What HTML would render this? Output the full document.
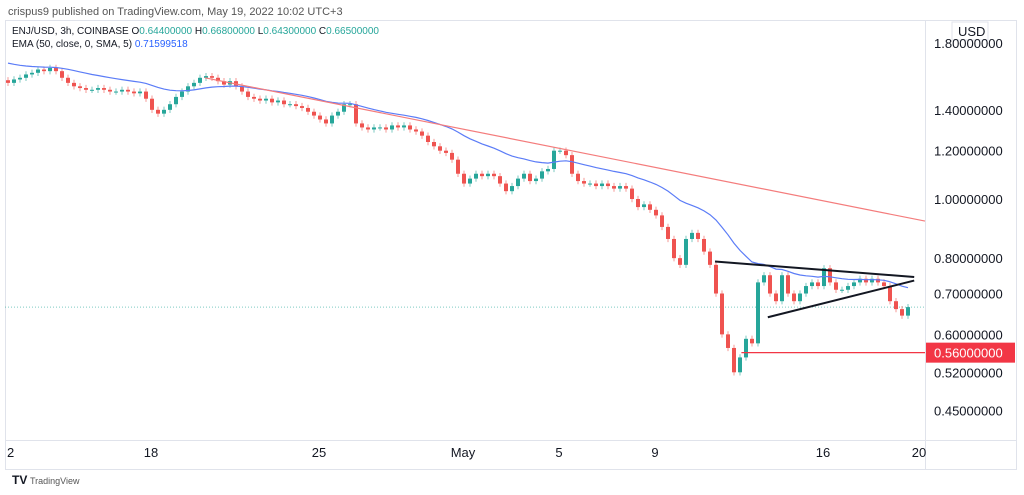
<!DOCTYPE html>
<html><head><meta charset="utf-8"><style>
body{margin:0;width:1024px;height:495px;background:#fff;overflow:hidden;font-family:"Liberation Sans",sans-serif}
svg{position:absolute;left:0;top:0}
</style></head><body>
<svg id="c" width="1024" height="495">
<text x="8" y="15" font-size="11" fill="#555">crispus9 published on TradingView.com, May 19, 2022 10:02 UTC+3</text>
<rect x="5.5" y="20.5" width="1011" height="449" fill="none" stroke="#e0e3eb"/>
<line x1="925.5" y1="20" x2="925.5" y2="470" stroke="#e0e3eb"/>
<line x1="5" y1="440.5" x2="1017" y2="440.5" stroke="#e0e3eb"/>
<text x="12" y="34" font-size="10" fill="#131722">ENJ/USD, 3h, COINBASE  O<tspan fill="#26a69a">0.64400000</tspan>  H<tspan fill="#26a69a">0.66800000</tspan>  L<tspan fill="#26a69a">0.64300000</tspan>  C<tspan fill="#26a69a">0.66500000</tspan></text>
<text x="12" y="47" font-size="10" fill="#131722">EMA (50, close, 0, SMA, 5)  <tspan fill="#2962ff">0.71599518</tspan></text>
<rect x="952" y="22" width="36" height="18" fill="#fff" stroke="#e0e3eb"/>
<text x="958" y="36" font-size="13" fill="#131722">USD</text>
<g id="marks"></g>
<g id="axes"></g>
<text x="12" y="484" font-size="12" font-weight="bold" fill="#131722">TV</text>
<text x="30" y="484" font-size="9" fill="#555">TradingView</text>
</svg>
<script>
const closes=[1.55,1.57,1.58,1.60,1.61,1.63,1.62,1.64,1.62,1.58,1.55,1.53,1.52,1.51,1.51,1.52,1.51,1.50,1.50,1.51,1.50,1.49,1.50,1.46,1.40,1.38,1.40,1.43,1.47,1.50,1.53,1.55,1.58,1.59,1.58,1.56,1.54,1.56,1.53,1.50,1.47,1.46,1.45,1.46,1.44,1.45,1.43,1.43,1.42,1.41,1.39,1.37,1.35,1.33,1.37,1.39,1.43,1.43,1.33,1.31,1.30,1.31,1.31,1.30,1.32,1.31,1.32,1.30,1.29,1.27,1.24,1.22,1.20,1.19,1.16,1.10,1.06,1.08,1.10,1.09,1.10,1.09,1.06,1.03,1.05,1.08,1.10,1.07,1.08,1.11,1.12,1.20,1.20,1.18,1.10,1.07,1.06,1.06,1.05,1.06,1.05,1.04,1.05,1.04,1.00,0.97,0.98,0.96,0.94,0.90,0.86,0.80,0.78,0.86,0.88,0.86,0.82,0.78,0.70,0.60,0.57,0.52,0.55,0.59,0.58,0.73,0.75,0.70,0.68,0.75,0.70,0.68,0.70,0.72,0.73,0.72,0.77,0.73,0.71,0.71,0.72,0.73,0.74,0.73,0.74,0.73,0.72,0.68,0.66,0.644,0.665];
const priceTicks=[1.8,1.4,1.2,1.0,0.8,0.7,0.6,0.52,0.45];
const dateLabels=["2","18","25","May","5","9","16","20"];
const dateDays=[12,18,25,31,35,39,46,50]; // days since Apr 0 (May 1 = 31)
const emaStart=1.68, emaPeriod=25;
const support=0.56, lastPrice=0.665;
const triUpper=[[41.5,0.79],[49.8,0.745]], triLower=[[43.7,0.64],[49.8,0.735]];
const trend=[[20.25,1.58],[50.25,0.92]];
const supportStartDay=42.6;

const NS="http://www.w3.org/2000/svg";
const y=p=>199-265*Math.log(p);
const xDay=d=>319+(d-25)*24;
const xCandle=i=>xDay(12)+1+i*6;
const m=document.getElementById('marks'), ax=document.getElementById('axes');
function el(t,a,p){const e=document.createElementNS(NS,t);for(const k in a)e.setAttribute(k,a[k]);(p||m).appendChild(e);return e;}

const lp=el('line',{x1:5,x2:925,y1:y(lastPrice),y2:y(lastPrice),stroke:'#26a69a','stroke-dasharray':'1 2','stroke-opacity':0.6});



let prev=closes[0]*1.01;
closes.forEach((c,i)=>{
  const o=prev, up=c>=o, col=up?'#26a69a':'#ef5350';
  const hi=Math.max(o,c)*1.012, lo=Math.min(o,c)*0.988, x=xCandle(i);
  const w=el('line',{x1:x,x2:x,y1:y(hi),y2:y(lo),stroke:col,'stroke-opacity':0.6});
  
  
  const t=Math.min(y(o),y(c)), h=Math.max(1,Math.abs(y(o)-y(c)));
  const b=el('rect',{x:x-2,y:t,width:4,height:h,fill:col});
  
  
  prev=c;
});

let e=emaStart, pts=[];const k=2/(emaPeriod+1);
closes.forEach((c,i)=>{e=c*k+e*(1-k);pts.push(xCandle(i)+','+y(e).toFixed(1));});
const ema=el('polyline',{points:pts.join(' '),fill:'none',stroke:'#5b7cf7','stroke-width':1.2});



function seg(a,b,col,name,w){const l=el('line',{x1:xDay(a[0]),y1:y(a[1]),x2:xDay(b[0]),y2:y(b[1]),stroke:col,'stroke-width':w});
  }
seg(trend[0],trend[1],'#f47c7c','downtrend-line',1.2);
seg(triUpper[0],triUpper[1],'#131722','triangle-upper-line',2);
seg(triLower[0],triLower[1],'#131722','triangle-lower-line',2);
const sl=el('line',{x1:xDay(supportStartDay),x2:925,y1:y(support),y2:y(support),stroke:'#f23645','stroke-width':1.2});



priceTicks.forEach(p=>{
  const t=el('text',{x:934,y:y(p)+5,'font-size':13,fill:'#131722'},ax);t.textContent=p.toFixed(8);
  
  
});
const sb=el('rect',{x:926,y:y(support)-10,width:89,height:20,fill:'#f23645'},ax);


const st=el('text',{x:934,y:y(support)+5,'font-size':13,fill:'#fff'},ax);st.textContent=support.toFixed(8);



dateLabels.forEach((d,i)=>{
  const t=el('text',{x:xDay(dateDays[i]),y:457,'font-size':13,fill:'#131722','text-anchor':i==0?'start':'middle'},ax);t.textContent=d;
  
  
});
</script>
</body></html>
